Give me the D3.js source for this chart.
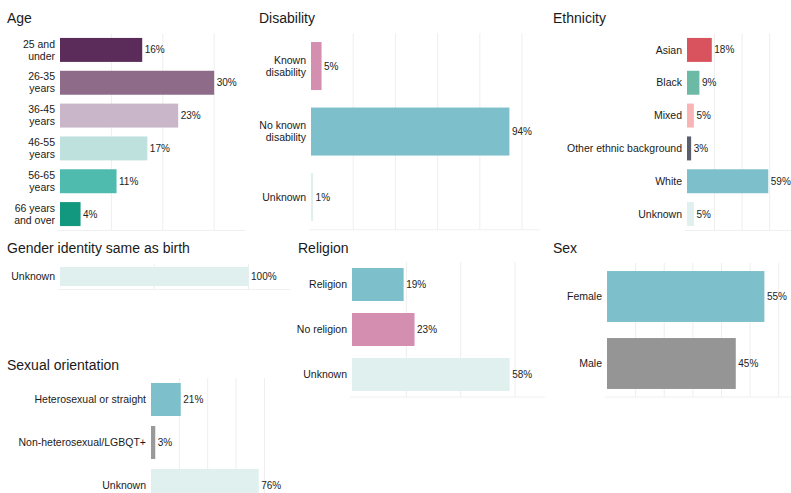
<!DOCTYPE html>
<html>
<head>
<meta charset="utf-8">
<script src="https://cdn.jsdelivr.net/npm/d3@7/dist/d3.min.js"></script>
<style>
  html, body { margin: 0; padding: 0; background: #fff; }
  svg { display: block; font-family: "Liberation Sans", Arial, Helvetica, sans-serif; }
</style>
</head>
<body>
<svg id="chart" width="791" height="493"></svg>
<script>
// ---------------- DATA ----------------
const ageCategories = ["25 and\nunder", "26-35\nyears", "36-45\nyears", "46-55\nyears", "56-65\nyears", "66 years\nand over"];
const ageValues = [16, 30, 23, 17, 11, 4];
const ageColors = ["#5b2c5a", "#8e6b88", "#c9b7c9", "#bfe1dd", "#4fbaae", "#12987f"];

const disabilityCategories = ["Known\ndisability", "No known\ndisability", "Unknown"];
const disabilityValues = [5, 94, 1];
const disabilityColors = ["#d48fb0", "#7dc0cc", "#dff0ef"];

const ethnicityCategories = ["Asian", "Black", "Mixed", "Other ethnic background", "White", "Unknown"];
const ethnicityValues = [18, 9, 5, 3, 59, 5];
const ethnicityColors = ["#d9535f", "#6cb9a6", "#f9b5b5", "#5a5f6b", "#7dc0cc", "#dff0ef"];

const genderCategories = ["Unknown"];
const genderValues = [100];
const genderColors = ["#dff0ef"];

const religionCategories = ["Religion", "No religion", "Unknown"];
const religionValues = [19, 23, 58];
const religionColors = ["#7dc0cc", "#d48fb0", "#dff0ef"];

const sexCategories = ["Female", "Male"];
const sexValues = [55, 45];
const sexColors = ["#7dc0cc", "#959595"];

const orientationCategories = ["Heterosexual or straight", "Non-heterosexual/LGBQT+", "Unknown"];
const orientationValues = [21, 3, 76];
const orientationColors = ["#7dc0cc", "#999999", "#dff0ef"];

// ---------------- LAYOUT ----------------
const panels = [
  { title: "Age", tx: 7, ty: 23, cats: ageCategories, vals: ageValues, cols: ageColors,
    x: [60, 245], dmax: 36, ticks: [10, 20, 30], y: [33.5, 230.5], pad: 0.27 },
  { title: "Disability", tx: 259, ty: 23, cats: disabilityCategories, vals: disabilityValues, cols: disabilityColors,
    x: [311, 540], dmax: 108.5, ticks: [20, 40, 60, 80, 100], y: [33.3, 229.8], pad: 0.267 },
  { title: "Ethnicity", tx: 553, ty: 23, cats: ethnicityCategories, vals: ethnicityValues, cols: ethnicityColors,
    x: [687, 791], dmax: 75.5, ticks: [20, 40, 60], y: [33.5, 230.5], pad: 0.27 },
  { title: "Gender identity same as birth", tx: 7, ty: 253, cats: genderCategories, vals: genderValues, cols: genderColors,
    x: [60, 290], dmax: 122, ticks: [50, 100], y: [263.5, 289.5], pad: 0.27 },
  { title: "Religion", tx: 298, ty: 253, cats: religionCategories, vals: religionValues, cols: religionColors,
    x: [352, 545], dmax: 71, ticks: [20, 40, 60], y: [262, 397], pad: 0.267 },
  { title: "Sex", tx: 553, ty: 253, cats: sexCategories, vals: sexValues, cols: sexColors,
    x: [607, 791], dmax: 64.3, ticks: [10, 20, 30, 40, 50, 60], y: [263, 397], pad: 0.24 },
  { title: "Sexual orientation", tx: 7, ty: 370, cats: orientationCategories, vals: orientationValues, cols: orientationColors,
    x: [151, 280], dmax: 91, ticks: [20, 40, 60, 80], y: [378, 507], pad: 0.233 }
];

const svg = d3.select("#chart");

panels.forEach(p => {
  const g = svg.append("g");
  const x = d3.scaleLinear().domain([0, p.dmax]).range(p.x);
  const y = d3.scaleBand().domain(p.cats).range(p.y).paddingInner(p.pad).paddingOuter(p.pad / 2);

  // gridlines
  g.append("g").selectAll("line").data(p.ticks).join("line")
    .attr("x1", d => x(d)).attr("x2", d => x(d))
    .attr("y1", p.y[0]).attr("y2", p.y[1])
    .attr("stroke", "#eeeeee").attr("stroke-width", 1);
  // baseline
  g.append("line")
    .attr("x1", p.x[0] - 2).attr("x2", p.x[1])
    .attr("y1", p.y[1]).attr("y2", p.y[1])
    .attr("stroke", "#f0f0f0");

  // title
  g.append("text").attr("x", p.tx).attr("y", p.ty)
    .attr("font-size", 14).attr("fill", "#1a1a1a").text(p.title);

  const data = p.cats.map((c, i) => ({ c, v: p.vals[i], col: p.cols[i] }));

  // bars
  g.append("g").selectAll("rect").data(data).join("rect")
    .attr("x", x(0)).attr("y", d => y(d.c))
    .attr("width", d => x(d.v) - x(0)).attr("height", y.bandwidth())
    .attr("fill", d => d.col);

  // value labels
  g.append("g").selectAll("text").data(data).join("text")
    .attr("x", d => x(d.v) + 2.5).attr("y", d => y(d.c) + y.bandwidth() / 2)
    .attr("dy", "0.35em").attr("font-size", 10).attr("fill", "#222")
    .text(d => d.v + "%");

  // category labels
  const lab = g.append("g").selectAll("text").data(data).join("text")
    .attr("x", x(0) - 5).attr("y", d => y(d.c) + y.bandwidth() / 2)
    .attr("text-anchor", "end").attr("font-size", 10.5).attr("fill", "#1a1a1a");
  lab.each(function(d) {
    const lines = d.c.split("\n");
    const t = d3.select(this);
    const lh = 12;
    lines.forEach((ln, i) => {
      t.append("tspan").attr("x", x(0) - 5)
        .attr("dy", i === 0 ? ((-(lines.length - 1) * lh / 2) / 10.5 + 0.35) + "em" : lh + "px")
        .text(ln);
    });
  });
});
</script>
</body>
</html>
